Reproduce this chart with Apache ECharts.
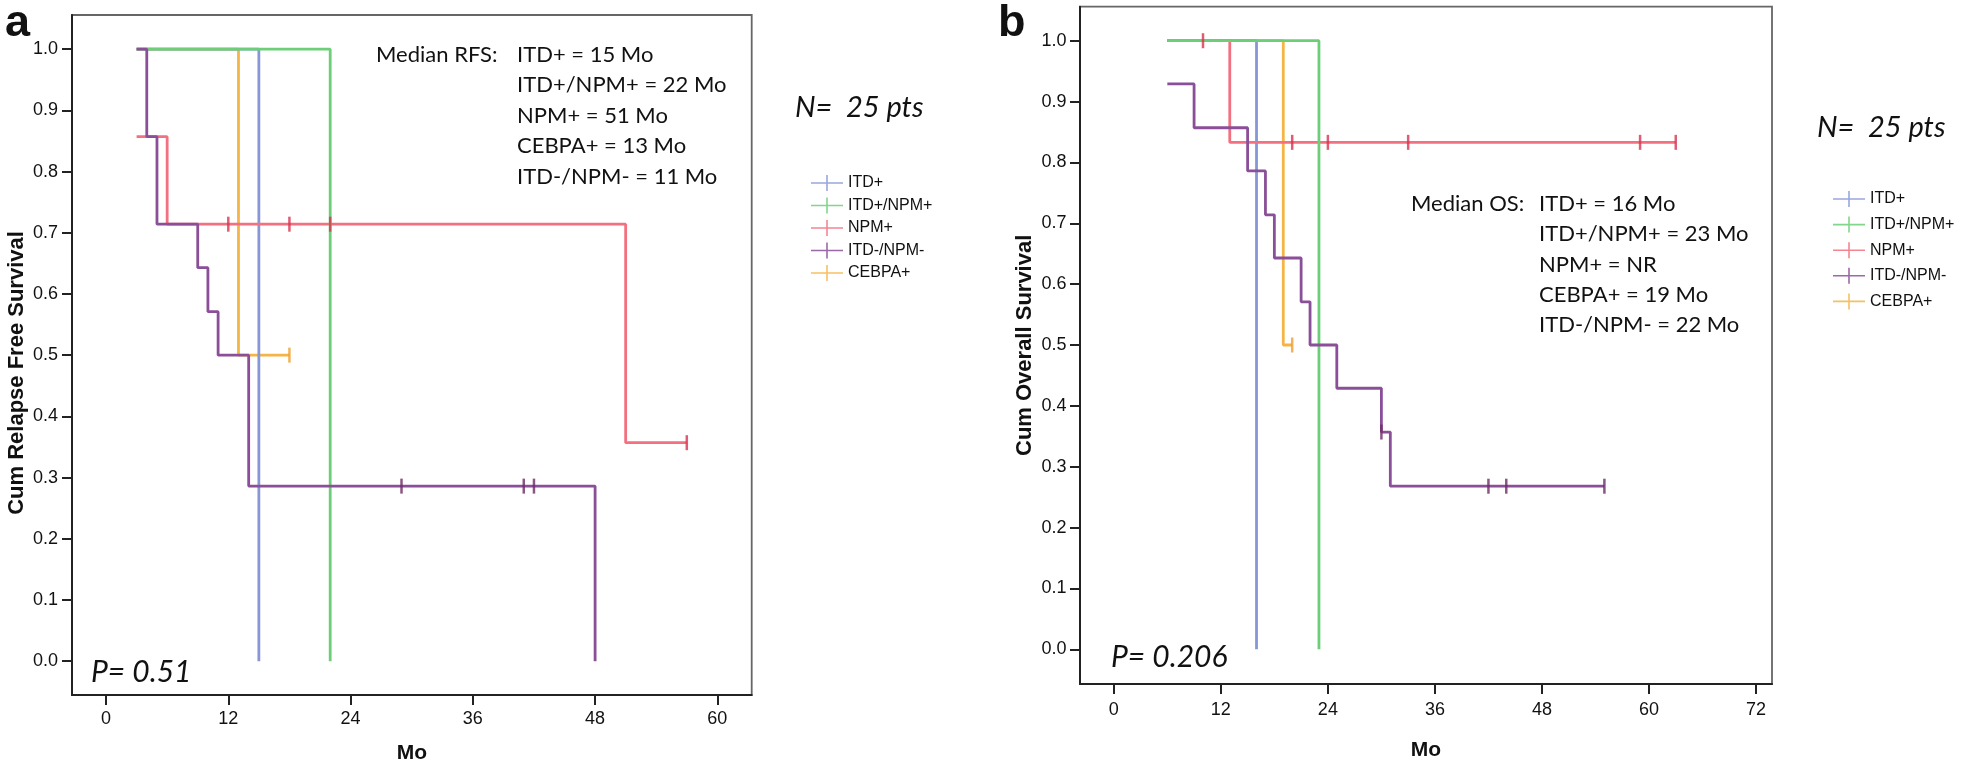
<!DOCTYPE html>
<html><head><meta charset="utf-8">
<script src="https://cdn.jsdelivr.net/npm/echarts@6/dist/echarts.min.js"></script>
<style>html,body{margin:0;padding:0;background:#fff}#c{width:1961px;height:769px}</style>
</head><body><div id="c"></div>
<script>
// ---------- data ----------
const groups = ['ITD+', 'ITD+/NPM+', 'NPM+', 'ITD-/NPM-', 'CEBPA+'];
const groupColors = ['#8796d6', '#6ccf78', '#f2707f', '#8a4f98', '#f5b546'];
const censorColors = ['#6f7fc8', '#3fb84f', '#d8334f', '#6e2a66', '#eea030'];
const drawOrder = [2, 4, 3, 5, 1]; // z per group (green above orange/blue, purple on top)

const xTicksA = [0, 12, 24, 36, 48, 60];
const xTicksB = [0, 12, 24, 36, 48, 60, 72];
const yTicks = [0, 0.1, 0.2, 0.3, 0.4, 0.5, 0.6, 0.7, 0.8, 0.9, 1.0];

// Panel a: relapse-free survival (months, cumulative survival)
const rfsItdTime = [3, 15];            const rfsItdSurv = [1, 0];
const rfsItdNpmTime = [3, 22];         const rfsItdNpmSurv = [1, 0];
const rfsNpmTime = [3, 6, 51, 57];     const rfsNpmSurv = [0.857, 0.714, 0.357, 0.357];
const rfsNegTime = [3, 4, 5, 9, 10, 11, 14, 48];
const rfsNegSurv = [1, 0.857, 0.714, 0.643, 0.571, 0.5, 0.286, 0];
const rfsCebpaTime = [3, 13, 18];      const rfsCebpaSurv = [1, 0.5, 0.5];
// censored observations
const rfsNpmCensTime = [12, 18, 22, 57];  const rfsNpmCensSurv = [0.714, 0.714, 0.714, 0.357];
const rfsNegCensTime = [29, 41, 42];      const rfsNegCensSurv = [0.286, 0.286, 0.286];
const rfsCebpaCensTime = [18];            const rfsCebpaCensSurv = [0.5];

// Panel b: overall survival
const osItdTime = [6, 16];             const osItdSurv = [1, 0];
const osItdNpmTime = [6, 23];          const osItdNpmSurv = [1, 0];
const osNpmTime = [6, 13, 63];         const osNpmSurv = [1, 0.833, 0.833];
const osNegTime = [6, 9, 15, 17, 18, 21, 22, 25, 30, 31, 55];
const osNegSurv = [0.929, 0.857, 0.786, 0.714, 0.643, 0.571, 0.5, 0.429, 0.357, 0.268, 0.268];
const osCebpaTime = [6, 19, 20];       const osCebpaSurv = [1, 0.5, 0.5];
const osNpmCensTime = [10, 20, 24, 33, 59, 63];
const osNpmCensSurv = [1, 0.833, 0.833, 0.833, 0.833, 0.833];
const osNegCensTime = [30, 42, 44, 55];   const osNegCensSurv = [0.357, 0.268, 0.268, 0.268];
const osCebpaCensTime = [20];             const osCebpaCensSurv = [0.5];

// annotation texts
const rfsMedianLabel = 'Median RFS:';
const rfsMedianLines = ['ITD+ = 15 Mo', 'ITD+/NPM+ = 22 Mo', 'NPM+ = 51 Mo', 'CEBPA+ = 13 Mo', 'ITD-/NPM- = 11 Mo'];
const osMedianLabel = 'Median OS:';
const osMedianLines = ['ITD+ = 16 Mo', 'ITD+/NPM+ = 23 Mo', 'NPM+ = NR', 'CEBPA+ = 19 Mo', 'ITD-/NPM- = 22 Mo'];
const pValueA = 'P= 0.51';
const pValueB = 'P= 0.206';
const nText = 'N=  25 pts';
const yTitleA = 'Cum Relapse Free Survival';
const yTitleB = 'Cum Overall Survival';
const xTitle = 'Mo';

// ---------- build ----------
const zip = (t, s) => t.map((v, i) => [v, s[i]]);
const curvesA = [
  zip(rfsItdTime, rfsItdSurv), zip(rfsItdNpmTime, rfsItdNpmSurv), zip(rfsNpmTime, rfsNpmSurv),
  zip(rfsNegTime, rfsNegSurv), zip(rfsCebpaTime, rfsCebpaSurv)];
const censA = [[], [], zip(rfsNpmCensTime, rfsNpmCensSurv), zip(rfsNegCensTime, rfsNegCensSurv), zip(rfsCebpaCensTime, rfsCebpaCensSurv)];
const curvesB = [
  zip(osItdTime, osItdSurv), zip(osItdNpmTime, osItdNpmSurv), zip(osNpmTime, osNpmSurv),
  zip(osNegTime, osNegSurv), zip(osCebpaTime, osCebpaSurv)];
const censB = [[], [], zip(osNpmCensTime, osNpmCensSurv), zip(osNegCensTime, osNegCensSurv), zip(osCebpaCensTime, osCebpaCensSurv)];

const axisFont = "'Liberation Sans', Arial, sans-serif";
const calFont = "Lato, 'Open Sans', sans-serif";

function mkSeries(curves, cens, idx) {
  const out = [];
  curves.forEach((d, i) => {
    out.push({
      type: 'line', name: groups[i], xAxisIndex: idx, yAxisIndex: idx,
      data: d, step: 'end', showSymbol: false, symbol: 'none',
      lineStyle: { color: groupColors[i], width: 2.8 }, itemStyle: { color: groupColors[i] },
      animation: false, z: 2 + drawOrder[i]
    });
    if (cens[i].length) out.push({
      type: 'scatter', name: groups[i], xAxisIndex: idx, yAxisIndex: idx,
      data: cens[i], symbol: 'rect', symbolSize: [2.5, 15],
      itemStyle: { color: censorColors[i] }, animation: false, z: 10
    });
  });
  return out;
}

function xAxis(idx, min, max, ticks, gap, margin) {
  return {
    type: 'value', gridIndex: idx, min, max, splitLine: { show: false },
    axisLine: { onZero: false, lineStyle: { color: '#222', width: 2 } },
    axisTick: { customValues: ticks, length: 10, lineStyle: { color: '#222', width: 2 } },
    axisLabel: { customValues: ticks, margin, fontSize: 18, color: '#111', fontFamily: axisFont },
    name: xTitle, nameLocation: 'middle', nameGap: gap,
    nameTextStyle: { fontSize: 21, fontWeight: 'bold', color: '#111', fontFamily: axisFont }
  };
}
function yAxis(idx, min, max, title, gap, pad, margin) {
  return {
    type: 'value', gridIndex: idx, min, max, splitLine: { show: false },
    axisLine: { onZero: false, lineStyle: { color: '#222', width: 2 } },
    axisTick: { customValues: yTicks, length: 10, lineStyle: { color: '#222', width: 2 } },
    axisLabel: { customValues: yTicks, margin, fontSize: 18, color: '#111', fontFamily: axisFont,
      formatter: v => v.toFixed(1) },
    name: title, nameLocation: 'middle', nameGap: gap, nameRotate: 90,
    nameTextStyle: { fontSize: 22, fontWeight: 'bold', color: '#111', fontFamily: axisFont, padding: pad }
  };
}

const legendIcon = 'path://M0,7.2h32v1.6h-32z M15.2,0h1.6v16h-1.6z';
function mkLegend(left, top, gap) {
  return {
    orient: 'vertical', left, top, itemWidth: 32, itemHeight: 16, itemGap: gap, padding: 0,
    data: groups.map(g => ({ name: g, icon: legendIcon })),
    itemStyle: { borderWidth: 0, opacity: 0.85 },
    textStyle: { fontSize: 16, color: '#111', fontFamily: axisFont, lineHeight: 16, padding: [0, 0, 0, 0] }
  };
}

function txt(x, y, text, font) {
  return { type: 'text', x, y, silent: true,
    style: { text, font, fill: '#111', verticalAlign: 'middle', align: 'left' } };
}

const graphics = [
  txt(5, 24, 'a', "bold 45px 'Liberation Sans', Arial"),
  txt(998, 24, 'b', "bold 45px 'Liberation Sans', Arial"),
  txt(376, 55, rfsMedianLabel, "22px " + calFont),
  ...rfsMedianLines.map((s, i) => txt(517, 55 + i * 30.4, s, "22px " + calFont)),
  txt(1411, 204, osMedianLabel, "22px " + calFont),
  ...osMedianLines.map((s, i) => txt(1539, 204 + i * 30.25, s, "22px " + calFont)),
  txt(91, 672, pValueA, "italic 30px " + calFont),
  txt(1111, 657, pValueB, "italic 30px " + calFont),
  txt(795, 108, nText, "italic 29px " + calFont),
  txt(1817, 128, nText, "italic 29px " + calFont)
];

const option = {
  backgroundColor: '#fff',
  animation: false,
  grid: [
    { left: 72, top: 15, width: 679.7, height: 682.7, show: true, borderColor: '#666', borderWidth: 1.8, containLabel: false },
    { left: 1080, top: 6.7, width: 692, height: 677.3, show: true, borderColor: '#666', borderWidth: 1.8, containLabel: false }
  ],
  xAxis: [xAxis(0, -3.34, 63.37, xTicksA, 48, 15), xAxis(1, -3.79, 73.79, xTicksB, 56, 17)],
  yAxis: [yAxis(0, -0.0553, 1.0558, yTitleA, 44, [0, 36, 0, 0], 14),
          yAxis(1, -0.057, 1.0559, yTitleB, 44, [0, 0, 0, 0], 13.5)],
  legend: [mkLegend(811, 175, 6.5), mkLegend(1833, 191, 9.6)],
  series: [...mkSeries(curvesA, censA, 0), ...mkSeries(curvesB, censB, 1)],
  graphic: graphics
};
const chart = echarts.init(document.getElementById('c'), null, { renderer: 'canvas' });
chart.setOption(option);
</script></body></html>
